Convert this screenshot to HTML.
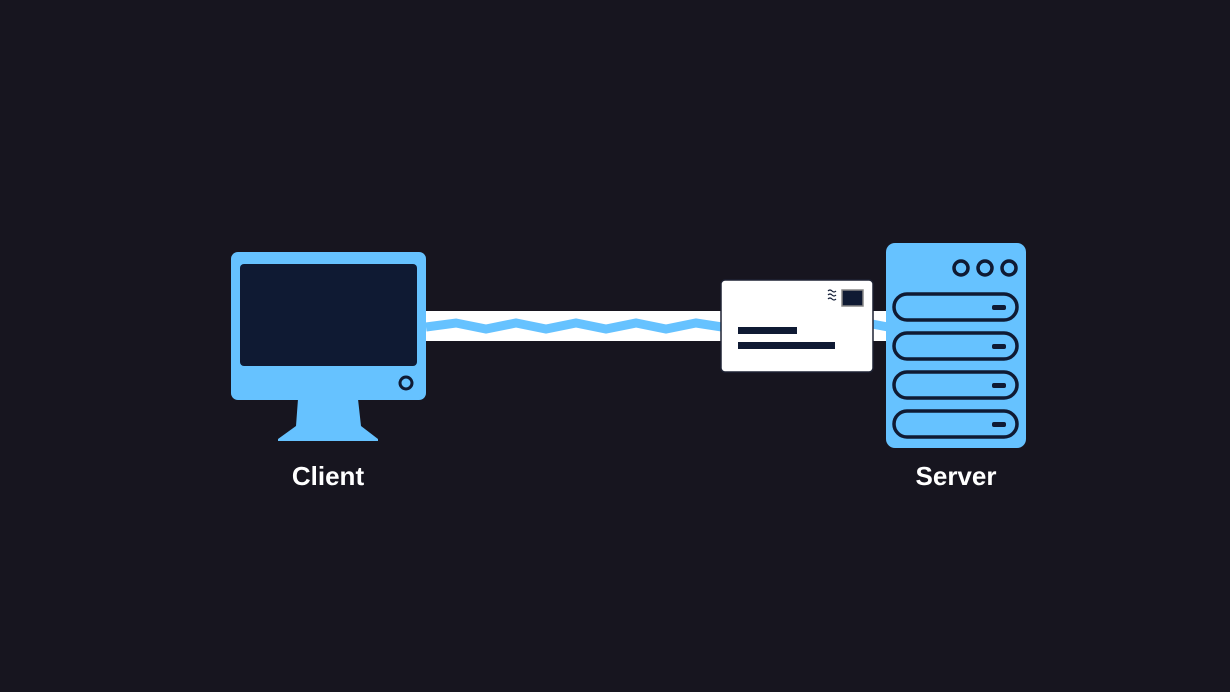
<!DOCTYPE html>
<html><head><style>
html,body{margin:0;padding:0;background:#17151f;width:1230px;height:692px;overflow:hidden}
svg{display:block}
text{font-family:"Liberation Sans",sans-serif;font-weight:bold;fill:#fff}
</style></head><body>
<svg width="1230" height="692" viewBox="0 0 1230 692">
<rect width="1230" height="692" fill="#17151f"/>
<rect x="424" y="311" width="300" height="30" fill="#fff"/>
<rect x="870" y="311" width="20" height="30" fill="#fff"/>
<polyline points="426,327 456,323 486,329 516,323 546,329 576,323 606,329 636,323 666,329 696,323 722,327" fill="none" stroke="#66c2ff" stroke-width="9"/>
<polyline points="872,324 888,327" fill="none" stroke="#66c2ff" stroke-width="9"/>
<rect x="231" y="252" width="195" height="148" rx="7" fill="#66c2ff"/>
<rect x="240" y="264" width="177" height="102" rx="4" fill="#0f1a33"/>
<circle cx="406" cy="383" r="6" fill="none" stroke="#0f1a33" stroke-width="3"/>
<polygon points="298,399 358,399 361,426 378,439 378,441 278,441 278,439 296,426" fill="#66c2ff"/>
<rect x="721" y="280" width="152" height="92" rx="4" fill="#fff" stroke="#1e2233" stroke-width="1.5"/>
<rect x="738" y="327" width="59" height="7" fill="#0f1a33"/>
<rect x="738" y="342" width="97" height="7" fill="#0f1a33"/>
<rect x="842" y="290" width="21" height="16" fill="#0f1a33" stroke="#888" stroke-width="1.5"/>
<path d="M828,291 q2,-2 4,0 t4,0 M828,295 q2,-2 4,0 t4,0 M828,299 q2,-2 4,0 t4,0" fill="none" stroke="#0f1a33" stroke-width="1.2"/>
<rect x="886" y="243" width="140" height="205" rx="9" fill="#66c2ff"/>
<g fill="none" stroke="#0f1a33" stroke-width="3.5">
<circle cx="961" cy="268" r="7"/><circle cx="985" cy="268" r="7"/><circle cx="1009" cy="268" r="7"/>
<rect x="894" y="294" width="123" height="26" rx="13"/>
<rect x="894" y="333" width="123" height="26" rx="13"/>
<rect x="894" y="372" width="123" height="26" rx="13"/>
<rect x="894" y="411" width="123" height="26" rx="13"/>
</g>
<g fill="#0f1a33">
<rect x="992" y="305" width="14" height="5" rx="2"/>
<rect x="992" y="344" width="14" height="5" rx="2"/>
<rect x="992" y="383" width="14" height="5" rx="2"/>
<rect x="992" y="422" width="14" height="5" rx="2"/>
</g>
<text x="328" y="485" font-size="26" text-anchor="middle">Client</text>
<text x="956" y="485" font-size="26" text-anchor="middle">Server</text>
</svg>
</body></html>
